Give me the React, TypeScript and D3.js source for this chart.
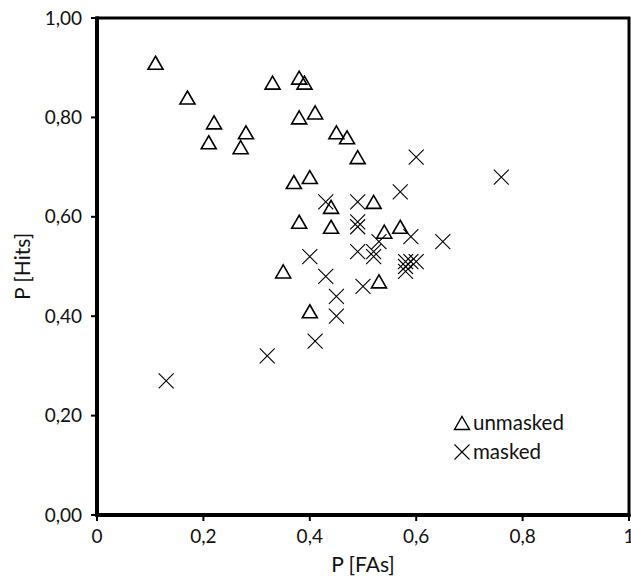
import * as d3 from 'd3';
import React from 'react';

// unmasked (triangles)
const unmaskedFA = [0.11, 0.17, 0.22, 0.21, 0.28, 0.27, 0.33, 0.38, 0.39, 0.38, 0.41, 0.45, 0.47, 0.49, 0.37, 0.40, 0.44, 0.52, 0.38, 0.44, 0.54, 0.57, 0.35, 0.53, 0.40];
const unmaskedHits = [0.91, 0.84, 0.79, 0.75, 0.77, 0.74, 0.87, 0.88, 0.87, 0.80, 0.81, 0.77, 0.76, 0.72, 0.67, 0.68, 0.62, 0.63, 0.59, 0.58, 0.57, 0.58, 0.49, 0.47, 0.41];

// masked (crosses)
const maskedFA = [0.13, 0.32, 0.41, 0.45, 0.45, 0.43, 0.40, 0.43, 0.49, 0.49, 0.49, 0.49, 0.50, 0.52, 0.52, 0.53, 0.57, 0.60, 0.76, 0.59, 0.65, 0.58, 0.59, 0.60, 0.58, 0.58];
const maskedHits = [0.27, 0.32, 0.35, 0.40, 0.44, 0.48, 0.52, 0.63, 0.63, 0.59, 0.58, 0.53, 0.46, 0.52, 0.53, 0.55, 0.65, 0.72, 0.68, 0.56, 0.55, 0.51, 0.51, 0.51, 0.50, 0.49];

const xTicks = [0, 0.2, 0.4, 0.6, 0.8, 1];
const xTickLabels = ['0', '0,2', '0,4', '0,6', '0,8', '1'];
const yTicks = [0, 0.2, 0.4, 0.6, 0.8, 1];
const yTickLabels = ['0,00', '0,20', '0,40', '0,60', '0,80', '1,00'];

const legendLabels = ['unmasked', 'masked'];

const font = 'Lato, "Open Sans", sans-serif';

const tri = (cx: number, cy: number) => {
  const w = 7.5, h = 6.5;
  return `M${cx},${cy - h}L${cx + w},${cy + h}L${cx - w},${cy + h}Z`;
};
const cross = (cx: number, cy: number) => {
  const r = 7.5;
  return `M${cx - r},${cy - r}L${cx + r},${cy + r}M${cx - r},${cy + r}L${cx + r},${cy - r}`;
};

export default function App() {
  const left = 97, right = 629, top = 18, bottom = 515;
  const x = d3.scaleLinear().domain([0, 1]).range([left, right]);
  const y = d3.scaleLinear().domain([0, 1]).range([bottom, top]);

  return (
    <svg width={631} height={577} style={{ position: 'absolute', left: 0, top: 0, background: '#fff' }}>
      {/* frame */}
      <rect x={left} y={top} width={right - left} height={bottom - top} fill="none" stroke="#000" strokeWidth={3} />
      <line x1={left} x2={left} y1={top - 1.5} y2={bottom + 1.5} stroke="#000" strokeWidth={4} />
      <line x1={left - 1.5} x2={right + 1.5} y1={bottom} y2={bottom} stroke="#000" strokeWidth={4} />

      {/* y axis ticks */}
      {yTicks.map((t, i) => (
        <g key={'y' + i}>
          <line x1={left - 6} x2={left} y1={y(t)} y2={y(t)} stroke="#000" strokeWidth={2} />
          <text x={82} y={y(t)} dy="0.35em" textAnchor="end" fontFamily={font} fontSize={19} fill="#111">{yTickLabels[i]}</text>
        </g>
      ))}

      {/* x axis ticks */}
      {xTicks.map((t, i) => (
        <g key={'x' + i}>
          <line x1={x(t)} x2={x(t)} y1={bottom} y2={bottom + 6} stroke="#000" strokeWidth={2} />
          <text x={x(t)} y={543} textAnchor="middle" fontFamily={font} fontSize={19} fill="#111">{xTickLabels[i]}</text>
        </g>
      ))}

      <text x={(left + right) / 2} y={572} textAnchor="middle" fontFamily={font} fontSize={21} fill="#111">P [FAs]</text>
      <text transform={`translate(30,${(top + bottom) / 2}) rotate(-90)`} textAnchor="middle" fontFamily={font} fontSize={21} fill="#111">P [Hits]</text>

      {/* data */}
      {unmaskedFA.map((v, i) => (
        <path key={'u' + i} d={tri(x(v), y(unmaskedHits[i]))} fill="none" stroke="#000" strokeWidth={1.6} />
      ))}
      {maskedFA.map((v, i) => (
        <path key={'m' + i} d={cross(x(v), y(maskedHits[i]))} fill="none" stroke="#000" strokeWidth={1.1} />
      ))}

      {/* legend */}
      <path d={tri(462, 423)} fill="none" stroke="#000" strokeWidth={1.4} />
      <text x={473} y={423} dy="0.35em" fontFamily={font} fontSize={20.5} fill="#111">{legendLabels[0]}</text>
      <path d={cross(462, 452)} fill="none" stroke="#000" strokeWidth={1.1} />
      <text x={473} y={452} dy="0.35em" fontFamily={font} fontSize={20.5} fill="#111">{legendLabels[1]}</text>
    </svg>
  );
}
